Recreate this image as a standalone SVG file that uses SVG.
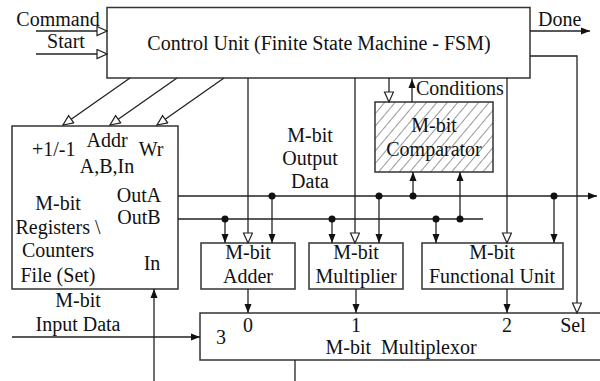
<svg xmlns="http://www.w3.org/2000/svg" width="600" height="381" viewBox="0 0 600 381">
<style>
text{font-family:"Liberation Serif","Times New Roman",serif;font-size:20px;fill:#111}
.m{text-anchor:middle}
.box{fill:#fff;stroke:#333;stroke-width:1.5}
.ln{fill:none;stroke:#222;stroke-width:1.3}
.oa{marker-end:url(#open)}
.fa{marker-end:url(#fill)}
.dot{fill:#111}
</style>
<defs>
<marker id="open" markerUnits="userSpaceOnUse" markerWidth="12" markerHeight="11" refX="11" refY="5" orient="auto">
<path d="M1,0.5 L11,5 L1,9.5 z" fill="#fff" stroke="#222" stroke-width="1.2"/>
</marker>
<marker id="fill" markerUnits="userSpaceOnUse" markerWidth="10" markerHeight="8" refX="9" refY="4" orient="auto">
<path d="M0,0.5 L9,4 L0,7.5 z" fill="#111"/>
</marker>
<pattern id="hatch" patternUnits="userSpaceOnUse" width="8" height="10" patternTransform="rotate(40)">
<line x1="0" y1="0" x2="0" y2="10" stroke="#333" stroke-width="1"/>
</pattern>
</defs>

<g id="control-unit">
<rect class="box" x="107" y="7.5" width="423" height="70.5"/>
<text class="m" x="319" y="50">Control Unit (Finite State Machine - FSM)</text>
</g>

<g id="comparator">
<rect x="375" y="102" width="118" height="70" fill="url(#hatch)" stroke="#333" stroke-width="1.5"/>
<text class="m" x="434" y="132">M-bit</text>
<text class="m" x="434" y="156">Comparator</text>
</g>

<g id="register-file">
<rect class="box" x="12" y="126" width="166" height="163"/>
<text x="32" y="156">+1/-1</text>
<text class="m" x="107" y="147">Addr</text>
<text class="m" x="107" y="173">A,B,In</text>
<text class="m" x="151" y="156">Wr</text>
<text class="m" x="139" y="202">OutA</text>
<text class="m" x="139" y="224">OutB</text>
<text class="m" x="58" y="210">M-bit</text>
<text class="m" x="58" y="234">Registers \</text>
<text class="m" x="58" y="257">Counters</text>
<text class="m" x="58" y="282">File (Set)</text>
<text class="m" x="152" y="270">In</text>
</g>

<g id="adder">
<rect class="box" x="201" y="243" width="94" height="46"/>
<text class="m" x="248" y="259">M-bit</text>
<text class="m" x="248" y="283">Adder</text>
</g>

<g id="multiplier">
<rect class="box" x="309" y="243" width="94" height="46"/>
<text class="m" x="356" y="259">M-bit</text>
<text class="m" x="356" y="283">Multiplier</text>
</g>

<g id="functional-unit">
<rect class="box" x="422" y="243" width="141" height="46"/>
<text class="m" x="492" y="259">M-bit</text>
<text class="m" x="492" y="283">Functional Unit</text>
</g>

<g id="multiplexor">
<rect class="box" x="200" y="313" width="420" height="47"/>
<text class="m" x="221" y="344">3</text>
<text class="m" x="248" y="332">0</text>
<text class="m" x="356" y="332">1</text>
<text class="m" x="507" y="332">2</text>
<text class="m" x="573" y="332">Sel</text>
<text class="m" x="401" y="354" xml:space="preserve">M-bit  Multiplexor</text>
</g>

<g id="labels">
<text class="m" x="58" y="26">Command</text>
<text class="m" x="66" y="48">Start</text>
<text x="538" y="26">Done</text>
<text x="416" y="95">Conditions</text>
<text class="m" x="310" y="142">M-bit</text>
<text class="m" x="310" y="165">Output</text>
<text class="m" x="310" y="188">Data</text>
<text class="m" x="78" y="307">M-bit</text>
<text class="m" x="78" y="331">Input Data</text>
</g>

<g id="connectors">
<line class="ln oa" x1="36" y1="31" x2="107" y2="31"/>
<line class="ln oa" x1="36" y1="54" x2="107" y2="54"/>
<line class="ln fa" x1="530" y1="31" x2="590" y2="31"/>
<polyline class="ln oa" points="530,56 577,56 577,313"/>
<line class="ln oa" x1="130" y1="78" x2="63" y2="125"/>
<line class="ln oa" x1="177" y1="78" x2="110" y2="125"/>
<line class="ln oa" x1="224" y1="78" x2="157" y2="125"/>
<line class="ln oa" x1="248" y1="78" x2="248" y2="243"/>
<line class="ln oa" x1="355" y1="78" x2="355" y2="243"/>
<line class="ln oa" x1="507" y1="78" x2="507" y2="243"/>
<line class="ln oa" x1="389" y1="78" x2="389" y2="102"/>
<line class="ln fa" x1="412" y1="102" x2="412" y2="79"/>
<line class="ln fa" x1="178" y1="196" x2="597" y2="196"/>
<line class="ln" x1="178" y1="219" x2="483" y2="219"/>
<line class="ln fa" x1="225" y1="219" x2="225" y2="243"/>
<line class="ln fa" x1="272" y1="196" x2="272" y2="243"/>
<line class="ln fa" x1="332" y1="219" x2="332" y2="243"/>
<line class="ln fa" x1="379" y1="196" x2="379" y2="243"/>
<line class="ln fa" x1="436" y1="219" x2="436" y2="243"/>
<line class="ln fa" x1="554" y1="196" x2="554" y2="243"/>
<line class="ln fa" x1="413" y1="196" x2="413" y2="172"/>
<line class="ln fa" x1="460" y1="219" x2="460" y2="172"/>
<line class="ln fa" x1="248" y1="289" x2="248" y2="313"/>
<line class="ln fa" x1="356" y1="289" x2="356" y2="313"/>
<line class="ln fa" x1="507" y1="289" x2="507" y2="313"/>
<line class="ln fa" x1="12" y1="337" x2="200" y2="337"/>
<line class="ln fa" x1="154" y1="381" x2="154" y2="289"/>
<line class="ln" x1="295" y1="360" x2="295" y2="381"/>
<circle class="dot" cx="272" cy="196" r="3.5"/>
<circle class="dot" cx="379" cy="196" r="3.5"/>
<circle class="dot" cx="413" cy="196" r="3.5"/>
<circle class="dot" cx="554" cy="196" r="3.5"/>
<circle class="dot" cx="225" cy="219" r="3.5"/>
<circle class="dot" cx="332" cy="219" r="3.5"/>
<circle class="dot" cx="436" cy="219" r="3.5"/>
<circle class="dot" cx="460" cy="219" r="3.5"/>
</g>
</svg>
